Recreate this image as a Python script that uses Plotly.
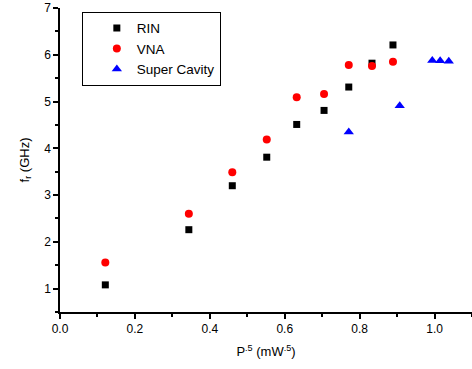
import plotly.graph_objects as go

rin_x = [0.121, 0.344, 0.46, 0.552, 0.632, 0.705, 0.771, 0.833, 0.889]
rin_y = [1.08, 2.26, 3.2, 3.81, 4.51, 4.81, 5.31, 5.82, 6.21]

vna_x = [0.121, 0.344, 0.46, 0.552, 0.632, 0.705, 0.771, 0.833, 0.889]
vna_y = [1.56, 2.6, 3.49, 4.19, 5.09, 5.16, 5.78, 5.76, 5.85]

sc_x = [0.771, 0.907, 0.994, 1.015, 1.038]
sc_y = [4.35, 4.91, 5.88, 5.87, 5.86]

fig = go.Figure()
fig.add_trace(go.Scatter(x=rin_x, y=rin_y, mode="markers", name="RIN",
                         marker=dict(symbol="square", size=7, color="black")))
fig.add_trace(go.Scatter(x=vna_x, y=vna_y, mode="markers", name="VNA",
                         marker=dict(symbol="circle", size=8, color="red")))
fig.add_trace(go.Scatter(x=sc_x, y=sc_y, mode="markers", name="Super Cavity",
                         marker=dict(symbol="triangle-up", size=9, color="blue")))

font = "Liberation Sans, Arial, sans-serif"
fig.update_layout(
    width=472, height=369,
    margin=dict(l=60, r=0, t=8, b=57, autoexpand=False),
    paper_bgcolor="white", plot_bgcolor="white",
    font=dict(family=font, size=12, color="black"),
    showlegend=True,
    legend=dict(x=0.053, y=0.988, xanchor="left", yanchor="top",
                bordercolor="black", borderwidth=1, bgcolor="white",
                font=dict(size=13.5), tracegroupgap=0, itemsizing="trace",
                indentation=14),
    xaxis=dict(range=[0, 1.1], dtick=0.2, tick0=0, tickformat=".1f", automargin=False,
               showgrid=False, zeroline=False, showline=True, linecolor="black",
               linewidth=1.5, ticks="outside", ticklen=5, tickwidth=1.5, tickcolor="black",
               minor=dict(ticks="outside", ticklen=3, dtick=0.1, tickcolor="black", tickwidth=1.5),
               title=dict(text="P<sup>.5</sup> (mW<sup>.5</sup>)", font=dict(size=13), standoff=12)),
    yaxis=dict(range=[0.5, 7], dtick=1, tick0=0, automargin=False,
               showgrid=False, zeroline=False, showline=True, linecolor="black",
               linewidth=1.5, ticks="outside", ticklen=5, tickwidth=1.5, tickcolor="black",
               minor=dict(ticks="outside", ticklen=3, dtick=0.5, tickcolor="black", tickwidth=1.5),
               title=dict(text="f<sub>r</sub> (GHz)", font=dict(size=13), standoff=12)),
)

fig.write_html("out.html", config={"displayModeBar": False},
               post_script="document.body.style.margin='0';")
